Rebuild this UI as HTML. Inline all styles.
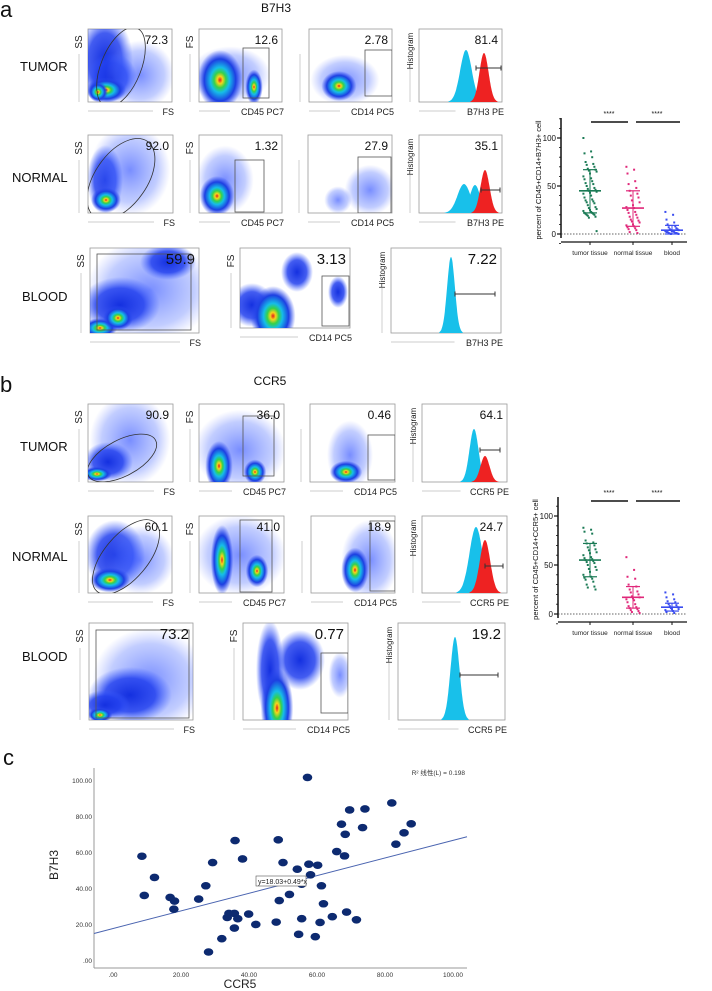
<!DOCTYPE html>
<html><head><meta charset="utf-8"><style>
html,body{margin:0;padding:0;background:#fff;}
svg{display:block;font-family:"Liberation Sans","Noto Sans CJK SC",sans-serif;}
</style></head><body>
<svg id="fig" width="712" height="991" viewBox="0 0 712 991" xmlns="http://www.w3.org/2000/svg">
<defs>
<radialGradient id="hot"><stop offset="0" stop-color="#e31a1c"/><stop offset="0.12" stop-color="#f7d51b"/><stop offset="0.26" stop-color="#35d14a"/><stop offset="0.42" stop-color="#16bde8"/><stop offset="0.7" stop-color="#1d3fe2"/><stop offset="1" stop-color="#2a48f2" stop-opacity="0"/></radialGradient>
<radialGradient id="blu"><stop offset="0" stop-color="#1430e0"/><stop offset="0.6" stop-color="#2240ee" stop-opacity="0.85"/><stop offset="1" stop-color="#3a5cff" stop-opacity="0"/></radialGradient>
<radialGradient id="lgt"><stop offset="0" stop-color="#3050ff" stop-opacity="0.65"/><stop offset="0.7" stop-color="#5070ff" stop-opacity="0.35"/><stop offset="1" stop-color="#6a80ff" stop-opacity="0"/></radialGradient>
</defs>
<g id="flow"></g>
<g id="dots"></g>
<g id="scatter"></g>
</svg>
<script>
// ---------- scatter data (panel c) ----------
const ccr5 = [8.5,9.2,12.2,16.8,18.1,17.9,25.2,27.3,29.3,28.1,32,33.6,34.1,35.7,35.9,35.7,36.7,38.1,39.9,42,48,48.6,48.9,50,51.9,54.2,54.6,55.5,55.5,57.2,57.6,58.1,59.5,60.2,60.9,61.3,61.9,64.5,65.8,67.2,68.1,68.3,68.7,69.6,71.6,73.4,74.1,82,83.2,85.6,87.7];
const b7h3 = [58.2,36.4,46.4,35.3,33.3,28.8,34.4,41.8,54.7,5,12.4,24.2,26.4,26.4,66.9,18.3,23.5,56.7,26.1,20.3,21.6,67.3,33.6,54.7,37,51,14.8,23.5,42.7,102,53.8,47.9,13.5,53.2,21.4,41.8,31.8,24.6,60.8,76,58.4,70.4,27.2,83.9,22.9,74.1,84.5,87.8,64.9,71.2,76.2];
const xTicks = [0,20,40,60,80,100];
const xTickLabels = [".00","20.00","40.00","60.00","80.00","100.00"];
const yTicks = [0,20,40,60,80,100];
const yTickLabels = [".00","20.00","40.00","60.00","80.00","100.00"];
const fitIntercept = 18.03, fitSlope = 0.49;

// ---------- dot plot data ----------
const groups = ["tumor tissue","normal tissue","blood"];
const aTumor = [100,86,84,80,75,73,72,70,68,67,66,65,63,60,58,57,55,53,52,50,48,47,46,45,44,43,42,40,38,36,35,34,33,32,30,28,27,26,25,24,23,22,22,21,21,20,20,19,18,17,3];
const aNormal = [70,67,63,55,52,48,45,42,40,38,35,33,30,28,27,25,23,22,20,18,17,15,14,13,12,10,9,8,7,6,5,4,2,1];
const aBlood = [23,20,15,12,10,8,7,6,5,5,4,4,3,3,3,2,2,2,1,1,1,0.5,0.5,0,0];
const aMean = [45,27,4], aUpper = [67,45,9], aLower = [22,8,0];
const bTumor = [88,86,84,82,75,73,72,70,68,66,65,63,62,60,58,57,56,55,54,53,52,50,48,46,45,43,40,38,37,36,35,33,30,28,27,25];
const bNormal = [58,45,38,36,30,28,25,23,22,20,18,17,16,15,14,12,10,8,7,6,5,4,3,2,1];
const bBlood = [22,20,17,15,13,12,10,9,8,7,6,5,5,4,3,2,1];
const bMean = [55,17,7], bUpper = [72,28,11], bLower = [38,6,3];
const dotTicks = [0,50,100];

const NS="http://www.w3.org/2000/svg";
function mk(parent,tag,attrs,text){const e=document.createElementNS(NS,tag);for(const k in attrs)e.setAttribute(k,attrs[k]);if(text!==undefined)e.textContent=text;parent.appendChild(e);return e;}

const F=document.getElementById('flow');
function txt(x,y,s,size,anchor,extra){const t=mk(F,'text',Object.assign({x:x,y:y,'font-size':size,'text-anchor':anchor||'start',fill:'#111'},extra||{}),s);return t;}
let t;
t=txt(0,17,'a',22);
t=txt(276,12,'B7H3',12,'middle');
t=txt(0,392,'b',22);
t=txt(270,385,'CCR5',12,'middle');
t=txt(3,765,'c',22);
[['TUMOR',20,71],['NORMAL',12,182],['BLOOD',22,301],['TUMOR',20,451],['NORMAL',12,561],['BLOOD',22,661]].forEach(r=>{
 const e=txt(r[1],r[2],r[0],13);});

function plot(name,x,y,w,h,blobs,gate,val,xl,yl){
 const g=mk(F,'g',{});
 
 
 mk(g,'rect',{x:x,y:y,width:w,height:h,fill:'#fff',stroke:'#999','stroke-width':0.8});
 const cp='cp'+name;
 const c=mk(g,'clipPath',{id:cp});mk(c,'rect',{x:x,y:y,width:w,height:h});
 const inner=mk(g,'g',{'clip-path':'url(#'+cp+')'});
 blobs.forEach(b=>{
  const id={h:'hot',b:'blu',l:'lgt'}[b[4]];
  const s=b[4]==='h'?1.25:(b[4]==='l'?1.15:1);
  mk(inner,'ellipse',{cx:b[0],cy:b[1],rx:b[2]*s,ry:b[3]*s,fill:'url(#'+id+')'});
 });
 if(gate){
  if(gate[0]==='e')mk(inner,'ellipse',{cx:gate[1],cy:gate[2],rx:gate[3],ry:gate[4],transform:'rotate('+gate[5]+' '+gate[1]+' '+gate[2]+')',fill:'none',stroke:'#333','stroke-width':0.8});
  if(gate[0]==='r')mk(inner,'rect',{x:gate[1],y:gate[2],width:gate[3],height:gate[4],fill:'none',stroke:'#555','stroke-width':0.8});
  if(gate[0]==='hist'){
   gate[1].forEach(p=>{
    const wd=p[1]*1.3;
    let d='M'+(p[0]-wd*3)+','+(y+h);
    for(let i=-30;i<=30;i++){const xx=p[0]+i*wd/10;const yy=(y+h)-(y+h-p[2])*Math.exp(-(i/10)*(i/10)/2);d+=' L'+xx.toFixed(1)+','+yy.toFixed(1);}
    d+=' L'+(p[0]+wd*3)+','+(y+h)+' Z';
    mk(inner,'path',{d:d,fill:p[3]});
   });
   const bar=gate[2];
   mk(g,'line',{x1:bar[0],x2:bar[1],y1:bar[2],y2:bar[2],stroke:'#333','stroke-width':1});
   mk(g,'line',{x1:bar[0],x2:bar[0],y1:bar[2]-2.5,y2:bar[2]+2.5,stroke:'#333'});
   mk(g,'line',{x1:bar[1],x2:bar[1],y1:bar[2]-2.5,y2:bar[2]+2.5,stroke:'#333'});
  }
 }
 const big=w>100;
 const vl=mk(g,'text',{x:x+w-4,y:y+(big?16:15),'font-size':big?15:12,'text-anchor':'end',fill:'#111'},val);
 
 
 mk(g,'line',{x1:x,x2:x+w-8-xl.length*5.5,y1:y+h+9,y2:y+h+9,stroke:'#bbb','stroke-width':0.7});
 const xt=mk(g,'text',{x:x+w+2,y:y+h+13,'font-size':9,'text-anchor':'end',fill:'#222'},xl);
 
 
 const yx=x-6,ymid=yl==='Histogram'?y+22:y+13;
 mk(g,'line',{x1:yx-3,x2:yx-3,y1:y+(yl==='Histogram'?40:25),y2:y+h,stroke:'#bbb','stroke-width':0.7});
 const yt=mk(g,'text',{x:yx,y:ymid,'font-size':yl==='Histogram'?8:10,'text-anchor':'middle',fill:'#222',transform:'rotate(-90 '+yx+' '+ymid+')'},yl);
 
 
}
const CY='#18c0ea',RD='#ee2222';
plot('a-tumor-fs-ss',88,29,84,73,[[105,60,28,45,'b'],[112,78,25,25,'b'],[140,75,30,30,'l'],[106,90,16,10,'h'],[98,92,8,8,'h']],['e',121,67,20,42,22],'72.3','FS','SS');
plot('a-tumor-cd45',199,29,83,73,[[230,75,35,25,'l'],[220,80,18,24,'h'],[254,87,7,14,'h']],['r',243,48,26,50],'12.6','CD45 PC7','FS');
plot('a-tumor-cd14',309,29,83,73,[[345,80,30,22,'l'],[339,86,14,12,'h']],['r',365,50,27,46],'2.78','CD14 PC5','');
plot('a-tumor-hist',419,29,83,73,[],['hist',[[466,4.5,50,CY],[484,3.5,53,RD]],[476,501,68]],'81.4','B7H3 PE','Histogram');
plot('a-normal-fs-ss',88,135,85,78,[[105,180,18,35,'b'],[130,170,35,40,'l'],[106,200,12,10,'h']],['e',121,179,26,46,35],'92.0','FS','SS');
plot('a-normal-cd45',199,135,83,78,[[225,180,25,30,'l'],[217,196,14,16,'h']],['r',235,160,29,52],'1.32','CD45 PC7','FS');
plot('a-normal-cd14',308,135,84,78,[[338,200,12,12,'l'],[370,190,22,22,'l']],['r',358,157,33,56],'27.9','CD14 PC5','');
plot('a-normal-hist',419,135,83,78,[],['hist',[[464,5,184,CY],[475,4,185,CY],[485,3.5,170,RD]],[481,500,190]],'35.1','B7H3 PE','Histogram');
plot('a-blood-fs-ss',90,248,109,85,[[150,290,55,45,'l'],[120,305,40,28,'b'],[168,262,28,18,'b'],[100,328,14,8,'h'],[118,318,12,10,'h']],['r',97,254,94,76],'59.9','FS','SS');
plot('a-blood-cd14',240,248,110,80,[[252,305,22,22,'b'],[297,272,16,20,'b'],[338,292,10,16,'b'],[273,316,18,24,'h']],['r',322,276,27,50],'3.13','CD14 PC5','FS');
plot('a-blood-hist',391,248,110,85,[],['hist',[[451,3,257,CY]],[455,495,294]],'7.22','B7H3 PE','Histogram');
plot('b-tumor-fs-ss',88,404,85,78,[[130,440,35,40,'l'],[108,462,25,20,'b'],[97,474,12,6,'h']],['e',122,458,38,18,-28],'90.9','FS','SS');
plot('b-tumor-cd45',199,404,85,78,[[240,450,40,35,'l'],[219,466,11,20,'h'],[255,472,9,10,'h']],['r',243,416,31,60],'36.0','CD45 PC7','FS');
plot('b-tumor-cd14',310,404,85,78,[[350,455,20,30,'l'],[346,472,13,9,'h']],['r',368,435,27,45],'0.46','CD14 PC5','');
plot('b-tumor-hist',422,404,85,78,[],['hist',[[474,3.5,429,CY],[485,3.5,456,RD]],[480,500,450]],'64.1','CCR5 PE','Histogram');
plot('b-normal-fs-ss',88,516,84,77,[[115,555,30,35,'b'],[140,560,30,30,'l'],[110,580,16,10,'h']],['e',126,557,22,45,40],'60.1','FS','SS');
plot('b-normal-cd45',199,516,85,77,[[240,555,40,35,'l'],[222,560,9,28,'h'],[257,571,9,13,'h']],['r',240,520,32,72],'41.0','CD45 PC7','FS');
plot('b-normal-cd14',311,516,84,77,[[370,560,25,35,'l'],[355,570,11,18,'h']],['r',370,521,25,70],'18.9','CD14 PC5','');
plot('b-normal-hist',422,516,85,77,[],['hist',[[476,5,527,CY],[485,4,540,RD]],[485,503,566]],'24.7','CCR5 PE','Histogram');
plot('b-blood-fs-ss',89,623,104,97,[[150,680,50,45,'l'],[130,695,42,28,'b'],[105,705,25,15,'b'],[100,715,10,6,'h']],['r',96,630,93,88],'73.2','FS','SS');
plot('b-blood-cd14',243,623,105,97,[[300,660,25,30,'b'],[270,670,14,50,'b'],[340,675,10,20,'l'],[277,708,13,32,'h']],['r',321,653,27,60],'0.77','CD14 PC5','FS');
plot('b-blood-hist',398,623,107,97,[],['hist',[[455,3.5,637,CY]],[460,498,675]],'19.2','CCR5 PE','Histogram');

// ---------- dot plots ----------
const D=document.getElementById('dots');
const gcol=['#1a7a55','#e0287a','#3a4cf0'];
function dotplot(name,ax,y0px,y100px,top,series,mean,up,lo,ylabel,right){
 const g=mk(D,'g',{});
 
 
 const ys=v=>y0px+(y100px-y0px)*v/100;
 const gx=[590,633,672];
 mk(g,'line',{x1:ax,x2:ax,y1:top,y2:y0px+4,stroke:'#111','stroke-width':1.5});
 for(let v=-10;v<=120;v+=10){const yy=ys(v);if(yy<top)continue;mk(g,'line',{x1:ax-2,x2:ax,y1:yy,y2:yy,stroke:'#111','stroke-width':0.8});}
 dotTicks.forEach(v=>{mk(g,'line',{x1:ax-4,x2:ax,y1:ys(v),y2:ys(v),stroke:'#111','stroke-width':1.2});
  const l=mk(g,'text',{x:ax-5,y:ys(v)+3,'font-size':8,'text-anchor':'end',fill:'#111'},String(v));
  });
 const bot=y0px+8;
 mk(g,'line',{x1:ax,x2:right,y1:bot,y2:bot,stroke:'#111','stroke-width':1.2});
 mk(g,'line',{x1:ax,x2:right,y1:y0px,y2:y0px,stroke:'#333','stroke-width':0.8,'stroke-dasharray':'1.5,1.5'});
 groups.forEach((gn,i)=>{
  mk(g,'line',{x1:gx[i],x2:gx[i],y1:bot,y2:bot+3,stroke:'#111'});
  const l=mk(g,'text',{x:gx[i],y:bot+13,'font-size':6.5,'text-anchor':'middle',fill:'#222'},gn);
  
  series[i].forEach((v,j)=>{
   const off=((j*7)%13-6)*1.1;
   const d=mk(g,'rect',{x:gx[i]+off-1,y:ys(v)-1,width:2,height:2,fill:gcol[i]});
   
   
  });
  mk(g,'line',{x1:gx[i]-11,x2:gx[i]+11,y1:ys(mean[i]),y2:ys(mean[i]),stroke:gcol[i],'stroke-width':1.6});
  mk(g,'line',{x1:gx[i]-7,x2:gx[i]+7,y1:ys(up[i]),y2:ys(up[i]),stroke:gcol[i],'stroke-width':1.2});
  mk(g,'line',{x1:gx[i]-7,x2:gx[i]+7,y1:ys(lo[i]),y2:ys(lo[i]),stroke:gcol[i],'stroke-width':1.2});
  mk(g,'line',{x1:gx[i],x2:gx[i],y1:ys(up[i]),y2:ys(lo[i]),stroke:gcol[i],'stroke-width':1});
 });
 const sy=top+4;
 mk(g,'line',{x1:591,x2:628,y1:sy,y2:sy,stroke:'#111','stroke-width':1.5});
 mk(g,'line',{x1:636,x2:680,y1:sy,y2:sy,stroke:'#111','stroke-width':1.5});
 mk(g,'text',{x:609,y:sy-6,'font-size':7,'text-anchor':'middle',fill:'#111'},'****');
 mk(g,'text',{x:657,y:sy-6,'font-size':7,'text-anchor':'middle',fill:'#111'},'****');
 const lx=ax-20,ly=(top+bot)/2;
 const yt=mk(g,'text',{x:lx,y:ly,'font-size':7.5,'text-anchor':'middle',fill:'#111',transform:'rotate(-90 '+lx+' '+ly+')'},ylabel);
 
}
dotplot('dot-plot-b7h3',561,234,138,118,[aTumor,aNormal,aBlood],aMean,aUpper,aLower,'percent of CD45+CD14+B7H3+ cell',687);
dotplot('dot-plot-ccr5',558,614,516,497,[bTumor,bNormal,bBlood],bMean,bUpper,bLower,'percent of CD45+CD14+CCR5+ cell',687);

// ---------- scatter ----------
const S=document.getElementById('scatter');
const sx=v=>113+3.4*v, sy=v=>961-1.8*v;
const L=94,R=467,T=768,B=968;
mk(S,'line',{x1:L,x2:L,y1:T,y2:B,stroke:'#999','stroke-width':1});
mk(S,'line',{x1:L,x2:R,y1:B,y2:B,stroke:'#999','stroke-width':1});
xTicks.forEach((v,i)=>{const l=mk(S,'text',{x:sx(v),y:B+9,'font-size':6.5,'text-anchor':'middle',fill:'#333'},xTickLabels[i]);
 });
yTicks.forEach((v,i)=>{const l=mk(S,'text',{x:L-2,y:sy(v)+2,'font-size':6.5,'text-anchor':'end',fill:'#333'},yTickLabels[i]);
 });
const x0=(L-113)/3.4,x1=(R-113)/3.4;
const fl=mk(S,'line',{x1:sx(x0),x2:sx(x1),y1:sy(fitIntercept+fitSlope*x0),y2:sy(fitIntercept+fitSlope*x1),stroke:'#4a64b0','stroke-width':1});

ccr5.forEach((v,i)=>{const d=mk(S,'ellipse',{cx:sx(v),cy:sy(b7h3[i]),rx:4.8,ry:3.8,fill:'#0d2a70'});
 });
const eb=mk(S,'rect',{x:256,y:876,width:50,height:10,fill:'#fff',stroke:'#555','stroke-width':0.6});

mk(S,'text',{x:258,y:884,'font-size':7,fill:'#222'},'y=18.03+0.49*x');
const r2=mk(S,'text',{x:465,y:775,'font-size':6.5,'text-anchor':'end',fill:'#333'},'R² 线性(L) = 0.198');

const xa=mk(S,'text',{x:240,y:988,'font-size':12,'text-anchor':'middle',fill:'#222'},'CCR5');

const ya=mk(S,'text',{x:58,y:865,'font-size':12,'text-anchor':'middle',fill:'#222',transform:'rotate(-90 58 865)'},'B7H3');

</script>
</body></html>
